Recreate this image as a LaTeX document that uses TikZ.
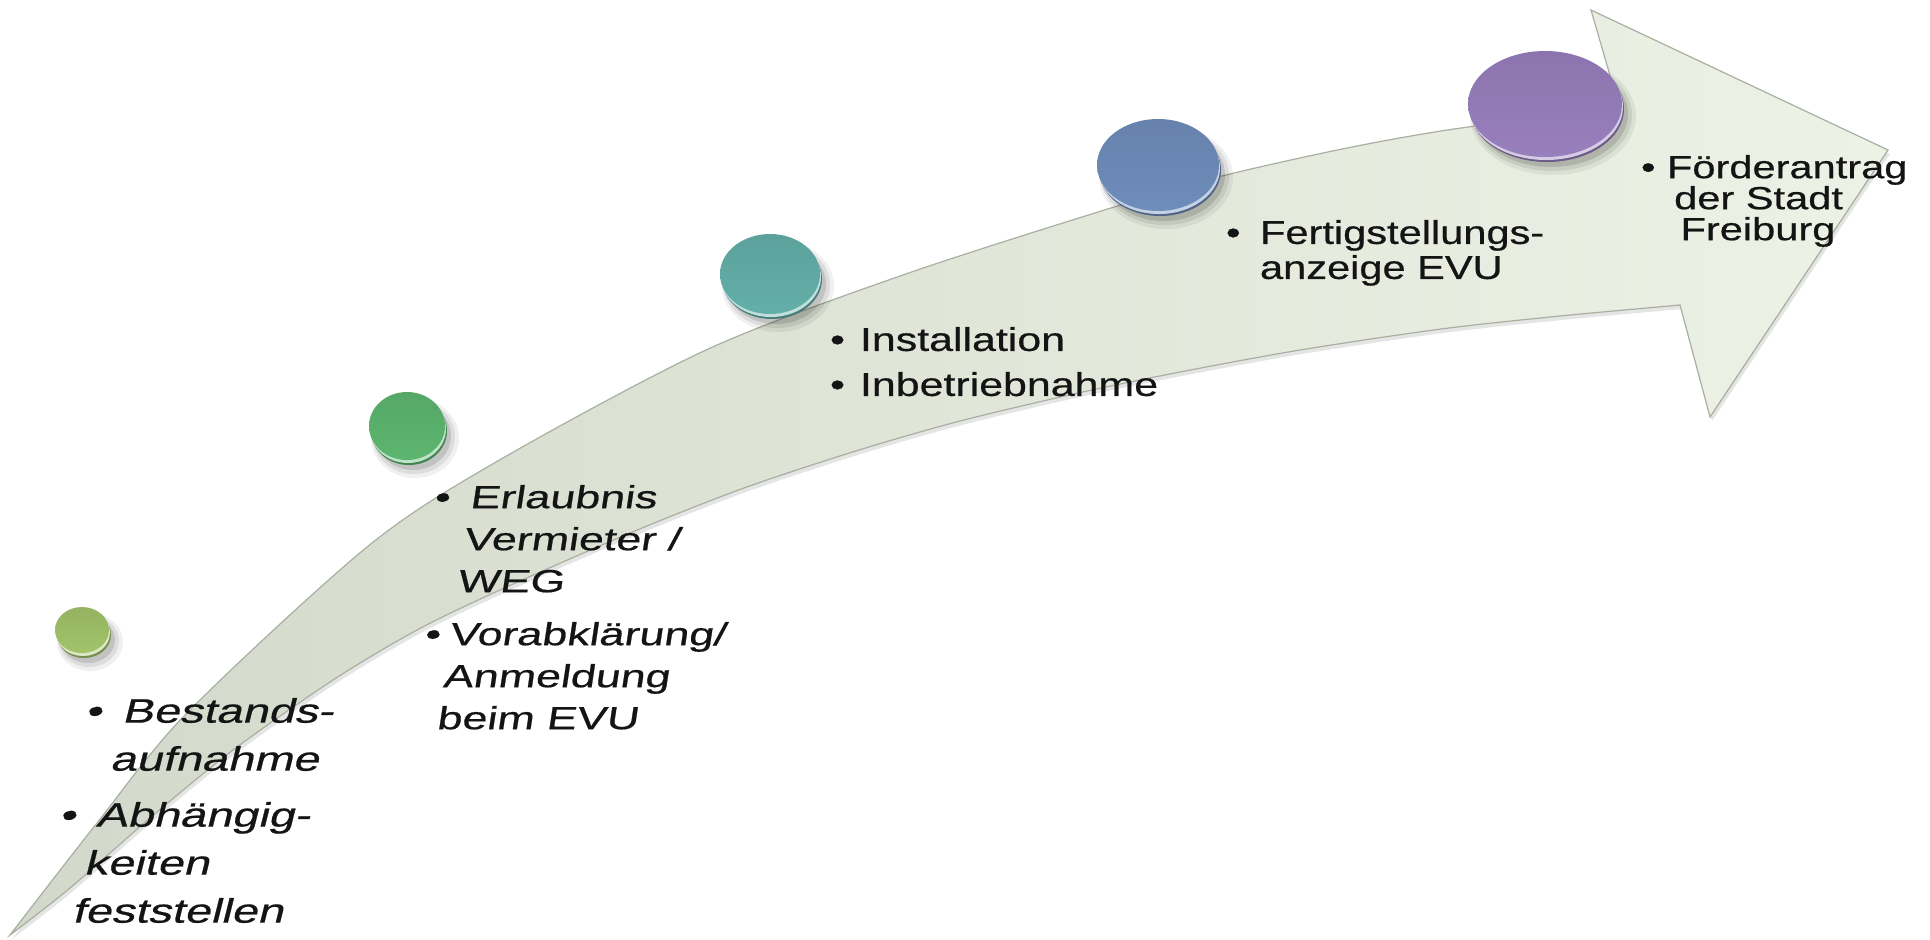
\documentclass[tikz,border=0pt]{standalone}
\usepackage{fontspec}
\setmainfont{Liberation Sans}
\newfontfamily\lblfont{Liberation Sans}[FakeBold=0.5]
\usetikzlibrary{shapes.geometric}
\definecolor{arrowL}{HTML}{D3D9CA}
\definecolor{arrowR}{HTML}{EDF2E6}
\definecolor{arrowE}{HTML}{A9AFA1}
\definecolor{cA}{HTML}{A2C36A}
\definecolor{cB}{HTML}{5DB66F}
\definecolor{cC}{HTML}{64AFA9}
\definecolor{cD}{HTML}{6F8DBB}
\definecolor{cE}{HTML}{987FBD}
\tikzset{
  txt/.style={anchor=north west, inner sep=0pt, outer sep=0pt, align=left, text=black!92},
  diskface/.style={ellipse, inner sep=0pt, outer sep=0pt, draw=none},
}
\newcommand{\blt}[1]{\makebox[#1][l]{\textbullet}}
% name, x, y, rx, ry, colour
\newcommand{\disk}[6]{%
  \fill[black, opacity=0.06] (#2+8,#3+12) ellipse [x radius=#4+6, y radius=#5+6];
  \fill[black, opacity=0.08] (#2+7,#3+11) ellipse [x radius=#4+3, y radius=#5+3];
  \fill[black, opacity=0.12] (#2+6,#3+10) ellipse [x radius=#4, y radius=#5];
  \fill[#6!72!black] (#2+2,#3+5) ellipse [x radius=#4, y radius=#5];
  \fill[#6!40!white] (#2+1,#3+3) ellipse [x radius=#4, y radius=#5];
  \node[diskface, minimum width=#4pt, minimum height=#5pt, top color=#6!92!black, bottom color=#6] (#1) at (#2,#3) {};
}
\newcommand{\upperedge}{(10,935) (97,823) (187,713) (367,547) (496,462) (706,350) (900,276) (1098,212) (1218,177) (1352,147) (1468,127) (1620,110)}
\newcommand{\loweredge}{(1680,305) (1560,316) (1441,329) (1300,350) (1180,372) (1078,393) (960,421) (859,450) (744,488) (630,533) (500,590) (417,630) (333,680) (233,750) (150,818) (70,888) (10,935)}
\begin{document}
\begin{tikzpicture}[x=0.5pt, y=-0.5pt]
\useasboundingbox (0,0) rectangle (1930,939);
\fill[white] (0,0) rectangle (1930,939);

% curved arrow (shadow + body)
\fill[black, opacity=0.10, shift={(2,4)}]
  plot[smooth, tension=0.5] coordinates {\upperedge}
  -- (1591,10) -- (1888,150) -- (1710,417) -- (1680,305)
  -- plot[smooth, tension=0.5] coordinates {\loweredge} -- cycle;
\path[draw=arrowE, line width=0.6pt, left color=arrowL, right color=arrowR]
  plot[smooth, tension=0.5] coordinates {\upperedge}
  -- (1591,10) -- (1888,150) -- (1710,417) -- (1680,305)
  -- plot[smooth, tension=0.5] coordinates {\loweredge} -- cycle;

% disks
\disk{d1}{82}{630}{27}{23}{cA}
\disk{d2}{407}{426}{38}{34}{cB}
\disk{d3}{770}{274}{50}{40}{cC}
\disk{d4}{1158}{165}{61}{46}{cD}
\disk{d5}{1545}{104}{77}{53}{cE}

% texts
\begin{scope}[shift={(91,698)}]
\node[txt, xslant=0.25, xscale=1.38, transform shape, font=\lblfont\fontsize{17}{24}\selectfont] (t1) at (0,0)
  {\blt{13.4pt}Bestands-\\ \hspace*{13.4pt}aufnahme\\[4pt]
   \blt{13.4pt}Abhängig-\\ \hspace*{13.4pt}keiten\\ \hspace*{13.4pt}feststellen};
\end{scope}
\begin{scope}[shift={(437,485)}]
\node[txt, xslant=0.15, xscale=1.4, transform shape, font=\lblfont\fontsize{16}{21}\selectfont] (t2) at (0,0)
  {\blt{12.85pt}Erlaubnis\\ \hspace*{12.85pt}Vermieter /\\ \hspace*{12.85pt}WEG\\[5.5pt]
   \hspace*{3.9pt}\blt{8.95pt}Vorabklärung/\\ \hspace*{12.85pt}Anmeldung\\ \hspace*{12.85pt}beim EVU};
\end{scope}
\begin{scope}[shift={(830,327)}]
\node[txt, xscale=1.3, transform shape, font=\lblfont\fontsize{16.5}{22.5}\selectfont] (t3) at (0,0)
  {\blt{11.55pt}Installation\\ \blt{11.55pt}Inbetriebnahme};
\end{scope}
\begin{scope}[shift={(1226,220)}]
\node[txt, xscale=1.26, transform shape, font=\lblfont\fontsize{16.5}{17.5}\selectfont] (t4) at (0,0)
  {\blt{13.5pt}Fertigstellungs-\\ \hspace*{13.5pt}anzeige EVU};
\end{scope}
\begin{scope}[shift={(1641,155)}]
\node[txt, xscale=1.3, transform shape, font=\lblfont\fontsize{16}{15.5}\selectfont] (t5) at (0,0)
  {\blt{10pt}Förderantrag\\ \hspace*{12.75pt}der Stadt\\ \hspace*{15.2pt}Freiburg};
\end{scope}
\end{tikzpicture}
\end{document}
